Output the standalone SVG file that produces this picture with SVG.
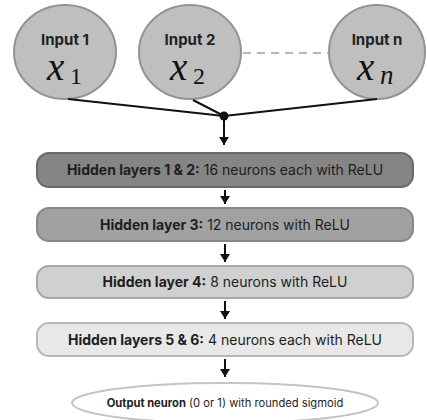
<svg xmlns="http://www.w3.org/2000/svg" width="427" height="420" viewBox="0 0 427 420">
<style>
.inp{fill:#bfbfbf;stroke:#939393;stroke-width:2}
.lbl{font-family:Inter,"Liberation Sans",sans-serif;font-weight:700;font-size:15px;fill:#222;text-anchor:middle}
.mt{font-family:"Liberation Serif","Times New Roman",serif;fill:#111}
.box{stroke-width:2}
.bt{font-family:Inter,"Liberation Sans",sans-serif;font-size:14px;fill:#1e1e1e;text-anchor:middle}
.bt tspan.b{font-weight:700}
.edge{stroke:#111;stroke-width:2;fill:none}
</style>
<defs>
<marker id="ah" markerWidth="8" markerHeight="10" refX="8" refY="5" orient="auto" markerUnits="userSpaceOnUse" viewBox="0 0 8 10">
<path d="M0,0 L8,5 L0,10 Z" fill="#111"/>
</marker>
</defs>
<g id="input1">
<ellipse class="inp" cx="65" cy="52" rx="51" ry="47"/>
<text class="lbl" x="65" y="44.5">Input 1</text>
<text class="mt" x="47" y="80" font-family="Liberation Serif, serif" font-style="italic" font-size="39">x</text>
<text class="mt" x="70" y="84" font-family="Liberation Serif, serif" font-size="24">1</text>
</g>
<g id="input2">
<ellipse class="inp" cx="190" cy="52" rx="51" ry="47"/>
<text class="lbl" x="190" y="44.5">Input 2</text>
<text class="mt" x="170" y="80" font-family="Liberation Serif, serif" font-style="italic" font-size="39">x</text>
<text class="mt" x="193" y="84" font-family="Liberation Serif, serif" font-size="24">2</text>
</g>
<g id="inputn">
<ellipse class="inp" cx="377" cy="52" rx="48" ry="47"/>
<text class="lbl" x="377" y="44.5">Input n</text>
<text class="mt" x="357" y="80" font-family="Liberation Serif, serif" font-style="italic" font-size="39">x</text>
<text class="mt" x="380" y="84" font-family="Liberation Serif, serif" font-style="italic" font-size="27">n</text>
</g>
<g id="connectors">
<line x1="243" y1="53" x2="328" y2="53" stroke="#b8b8b8" stroke-width="2" stroke-dasharray="8,6"/>
<line class="edge" x1="68" y1="99" x2="224" y2="116"/>
<line class="edge" x1="193" y1="100" x2="224" y2="116"/>
<line class="edge" x1="377" y1="99" x2="224" y2="116"/>
<circle cx="224" cy="116" r="4.5" fill="#111"/>
<line class="edge" x1="224" y1="116" x2="224" y2="145" marker-end="url(#ah)"/>
<line class="edge" x1="225" y1="190" x2="225" y2="204" marker-end="url(#ah)"/>
<line class="edge" x1="225" y1="244" x2="225" y2="262" marker-end="url(#ah)"/>
<line class="edge" x1="225" y1="301" x2="225" y2="319" marker-end="url(#ah)"/>
<line class="edge" x1="225" y1="359" x2="225" y2="377" marker-end="url(#ah)"/>
</g>
<g id="hidden12">
<rect class="box" x="37" y="153" width="376" height="34" rx="12" fill="#858585" stroke="#6a6a6a"/>
<text class="bt" x="225" y="175"><tspan class="b">Hidden layers 1 &amp; 2:</tspan> 16 neurons each with ReLU</text>
</g>
<g id="hidden3">
<rect class="box" x="37" y="208" width="376" height="33" rx="12" fill="#a1a1a1" stroke="#878787"/>
<text class="bt" x="225" y="229.5"><tspan class="b">Hidden layer 3:</tspan> 12 neurons with ReLU</text>
</g>
<g id="hidden4">
<rect class="box" x="37" y="266" width="376" height="32" rx="12" fill="#d0d0d0" stroke="#a6a6a6"/>
<text class="bt" x="225" y="287"><tspan class="b">Hidden layer 4:</tspan> 8 neurons with ReLU</text>
</g>
<g id="hidden56">
<rect class="box" x="37" y="323" width="376" height="33" rx="12" fill="#e8e8e8" stroke="#b8b8b8"/>
<text class="bt" x="225" y="344.5"><tspan class="b">Hidden layers 5 &amp; 6:</tspan> 4 neurons each with ReLU</text>
</g>
<g id="output">
<ellipse cx="225" cy="403" rx="153" ry="20" fill="#ffffff" stroke="#c4c4c4" stroke-width="2"/>
<text class="bt" x="225" y="407" style="font-size:11.2px"><tspan class="b">Output neuron</tspan> (0 or 1) with rounded sigmoid</text>
</g>
</svg>
